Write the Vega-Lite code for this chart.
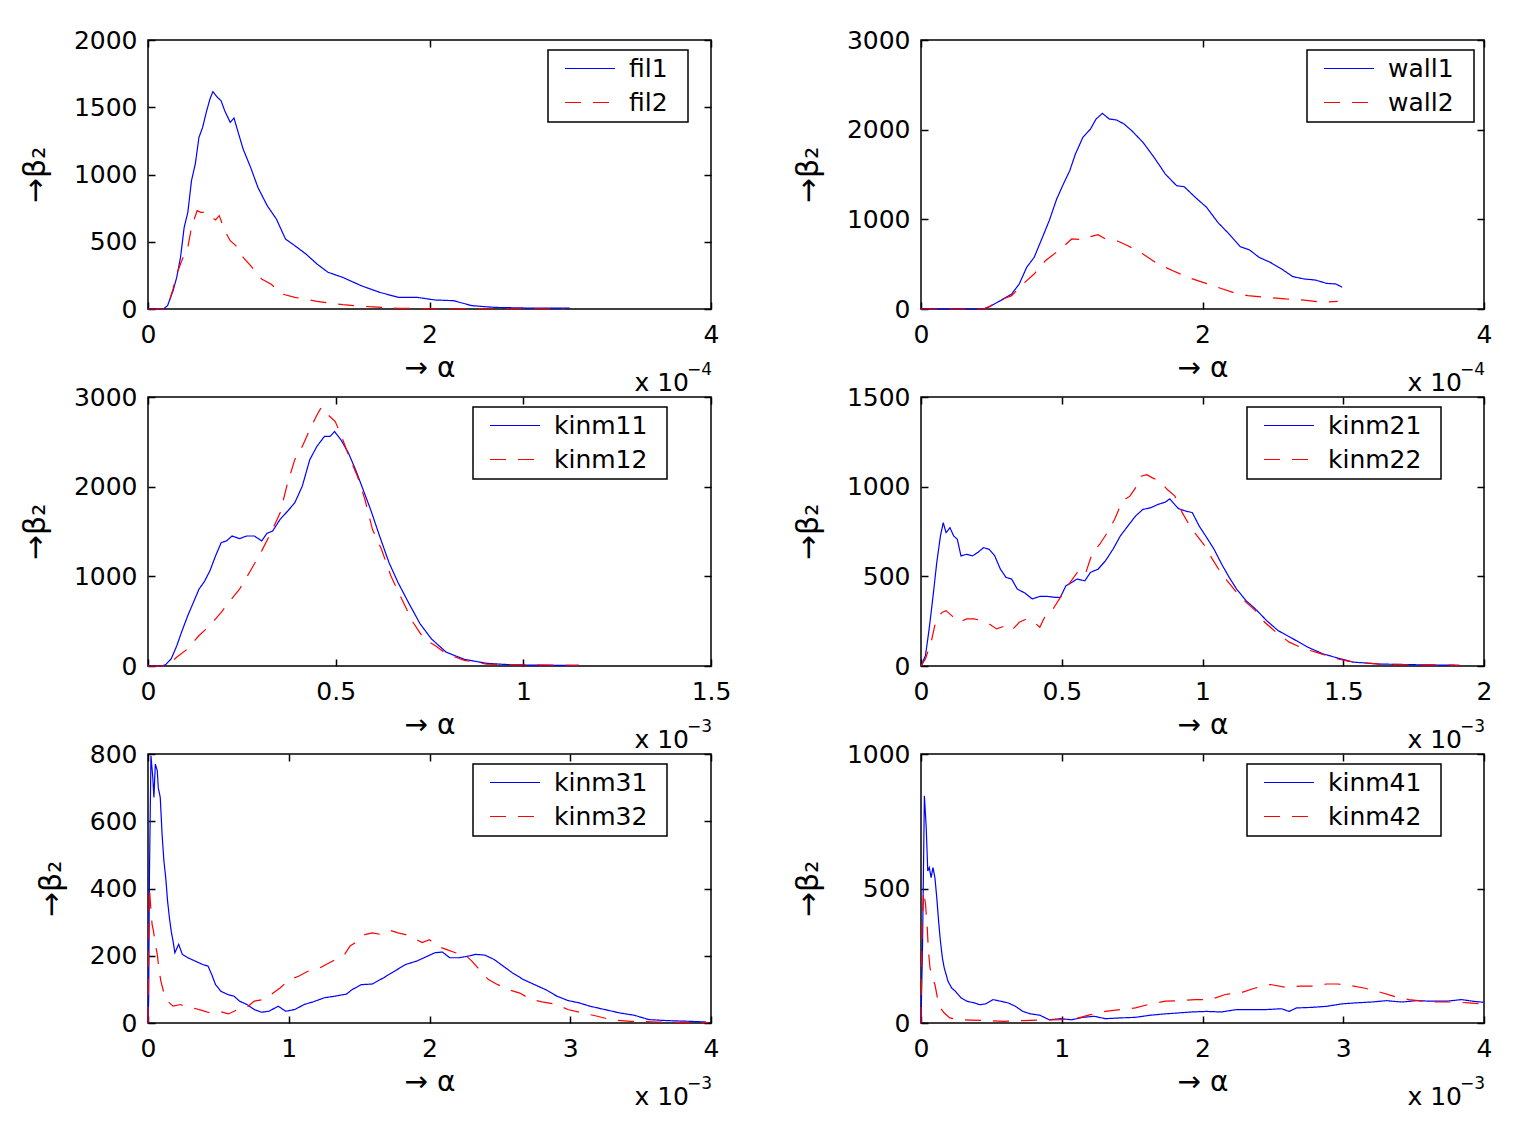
{
  "$schema": "https://vega.github.io/schema/vega-lite/v6.json",
  "background": "white",
  "padding": {"left": 19, "top": 27, "right": 10, "bottom": 10},
  "columns": 2,
  "spacing": {"row": 88, "column": 210},
  "bounds": "flush",
  "config": {
    "font": "DejaVu Sans",
    "view": {"stroke": "black", "strokeWidth": 1.5},
    "axis": {
      "grid": false, "domain": false,
      "tickColor": "black", "tickSize": -7, "tickWidth": 1.5,
      "labelFont": "DejaVu Sans", "labelFontSize": 25, "labelColor": "black",
      "labelFlush": false, "labelOverlap": false, "format": ".4~g",
      "titleFont": "DejaVu Sans", "titleFontSize": 28, "titleFontWeight": "normal", "titleColor": "black"
    },
    "axisX": {"labelPadding": 20, "titlePadding": 7},
    "axisY": {"labelPadding": 18, "titlePadding": 23, "titleFontSize": 30},
    "legend": {
      "orient": "none", "direction": "vertical",
      "symbolType": "stroke", "symbolSize": 2500, "symbolStrokeWidth": 2, "symbolOffset": 10,
      "labelOffset": 13, "labelFont": "DejaVu Sans", "labelFontSize": 25, "labelColor": "black", "labelBaseline": "middle",
      "titleOrient": "right", "titleColor": "rgba(0,0,0,0)", "titleFontSize": 40, "titlePadding": 0, "titleAngle": 0,
      "padding": 6, "rowPadding": 8, "clipHeight": 25,
      "strokeColor": "black", "strokeWidth": 1.5, "fillColor": "white"
    },
    "line": {"strokeWidth": 1.2, "clip": true},
    "text": {"font": "DejaVu Sans", "color": "black"}
  },
  "resolve": {
    "scale": {"color": "shared", "strokeDash": "shared"},
    "legend": {"color": "independent", "strokeDash": "independent"}
  },
  "concat": [
    {
      "width": 563, "height": 269,
      "resolve": {"axis": {"x": "independent", "y": "independent"}},
      "layer": [
        {
          "data": {"values": [
            {"s":"fil1","a":0,"b":0},{"s":"fil1","a":0.11,"b":0},{"s":"fil1","a":0.139,"b":25},{"s":"fil1","a":0.178,"b":136},{"s":"fil1","a":0.204,"b":235},{"s":"fil1","a":0.231,"b":384},{"s":"fil1","a":0.257,"b":607},{"s":"fil1","a":0.283,"b":719},{"s":"fil1","a":0.309,"b":954},{"s":"fil1","a":0.336,"b":1078},{"s":"fil1","a":0.362,"b":1276},{"s":"fil1","a":0.388,"b":1350},{"s":"fil1","a":0.414,"b":1462},{"s":"fil1","a":0.44,"b":1561},{"s":"fil1","a":0.461,"b":1616},{"s":"fil1","a":0.493,"b":1574},{"s":"fil1","a":0.519,"b":1549},{"s":"fil1","a":0.545,"b":1474},{"s":"fil1","a":0.584,"b":1388},{"s":"fil1","a":0.611,"b":1420},{"s":"fil1","a":0.637,"b":1326},{"s":"fil1","a":0.676,"b":1189},{"s":"fil1","a":0.729,"b":1053},{"s":"fil1","a":0.781,"b":904},{"s":"fil1","a":0.847,"b":768},{"s":"fil1","a":0.912,"b":669},{"s":"fil1","a":0.977,"b":520},{"s":"fil1","a":1.043,"b":471},{"s":"fil1","a":1.122,"b":409},{"s":"fil1","a":1.2,"b":335},{"s":"fil1","a":1.279,"b":273},{"s":"fil1","a":1.384,"b":235},{"s":"fil1","a":1.515,"b":173},{"s":"fil1","a":1.646,"b":124},{"s":"fil1","a":1.777,"b":87},{"s":"fil1","a":1.908,"b":87},{"s":"fil1","a":2.039,"b":67},{"s":"fil1","a":2.17,"b":62},{"s":"fil1","a":2.301,"b":25},{"s":"fil1","a":2.459,"b":12},{"s":"fil1","a":2.694,"b":7},{"s":"fil1","a":2.996,"b":7},
            {"s":"fil2","a":0,"b":0},{"s":"fil2","a":0.11,"b":0},{"s":"fil2","a":0.139,"b":17},{"s":"fil2","a":0.178,"b":149},{"s":"fil2","a":0.204,"b":260},{"s":"fil2","a":0.231,"b":335},{"s":"fil2","a":0.257,"b":404},{"s":"fil2","a":0.283,"b":458},{"s":"fil2","a":0.309,"b":607},{"s":"fil2","a":0.349,"b":731},{"s":"fil2","a":0.375,"b":719},{"s":"fil2","a":0.414,"b":719},{"s":"fil2","a":0.44,"b":694},{"s":"fil2","a":0.48,"b":662},{"s":"fil2","a":0.506,"b":694},{"s":"fil2","a":0.545,"b":582},{"s":"fil2","a":0.584,"b":508},{"s":"fil2","a":0.624,"b":471},{"s":"fil2","a":0.676,"b":384},{"s":"fil2","a":0.729,"b":322},{"s":"fil2","a":0.807,"b":223},{"s":"fil2","a":0.873,"b":186},{"s":"fil2","a":0.951,"b":112},{"s":"fil2","a":1.043,"b":87},{"s":"fil2","a":1.2,"b":57},{"s":"fil2","a":1.384,"b":32},{"s":"fil2","a":1.568,"b":17},{"s":"fil2","a":1.777,"b":5},{"s":"fil2","a":2.039,"b":2},{"s":"fil2","a":2.957,"b":2}
          ]},
          "mark": "line",
          "encoding": {
            "x": {"field": "a", "type": "quantitative", "scale": {"domain": [0, 4], "nice": false}, "axis": {"values": [0, 2, 4], "title": "→ α"}},
            "y": {"field": "b", "type": "quantitative", "scale": {"domain": [0, 2000], "nice": false}, "axis": {"values": [0, 500, 1000, 1500, 2000], "title": "→β₂"}},
            "color": {"field": "s", "type": "nominal", "scale": {"domain": ["fil1","fil2","wall1","wall2","kinm11","kinm12","kinm21","kinm22","kinm31","kinm32","kinm41","kinm42"], "range": ["#0000ff","#ff0000","#0000ff","#ff0000","#0000ff","#ff0000","#0000ff","#ff0000","#0000ff","#ff0000","#0000ff","#ff0000"]}, "legend": {"legendX": 400, "legendY": 10, "title": "l", "values": ["fil1", "fil2"]}},
            "strokeDash": {"field": "s", "type": "nominal", "scale": {"domain": ["fil1","fil2","wall1","wall2","kinm11","kinm12","kinm21","kinm22","kinm31","kinm32","kinm41","kinm42"], "range": [[1,0],[16,12],[1,0],[16,12],[1,0],[16,12],[1,0],[16,12],[1,0],[16,12],[1,0],[16,12]]}, "legend": {"legendX": 400, "legendY": 10, "title": "l", "values": ["fil1", "fil2"]}}
          }
        },
        {
          "data": {"values": [{}]},
          "mark": {"type": "text", "text": "x 10", "align": "right", "baseline": "alphabetic", "dx": -22, "dy": 82, "fontSize": 25},
          "encoding": {
            "x": {"datum": 4, "type": "quantitative", "axis": {"orient": "top", "labels": false, "title": null, "values": [0, 2, 4]}},
            "y": {"datum": 0, "type": "quantitative", "axis": {"orient": "right", "labels": false, "title": null, "values": [0, 500, 1000, 1500, 2000]}}
          }
        },
        {
          "data": {"values": [{}]},
          "mark": {"type": "text", "text": "−4", "align": "right", "baseline": "alphabetic", "dx": 1, "dy": 66, "fontSize": 17},
          "encoding": {"x": {"datum": 4, "type": "quantitative", "axis": null}, "y": {"datum": 0, "type": "quantitative", "axis": null}}
        }
      ]
    },
    {
      "width": 563, "height": 269,
      "resolve": {"axis": {"x": "independent", "y": "independent"}},
      "layer": [
        {
          "data": {"values": [
            {"s":"wall1","a":0,"b":0},{"s":"wall1","a":0.445,"b":0},{"s":"wall1","a":0.485,"b":26},{"s":"wall1","a":0.565,"b":93},{"s":"wall1","a":0.644,"b":167},{"s":"wall1","a":0.698,"b":279},{"s":"wall1","a":0.751,"b":465},{"s":"wall1","a":0.804,"b":576},{"s":"wall1","a":0.858,"b":781},{"s":"wall1","a":0.911,"b":985},{"s":"wall1","a":0.964,"b":1227},{"s":"wall1","a":1.017,"b":1412},{"s":"wall1","a":1.057,"b":1543},{"s":"wall1","a":1.097,"b":1728},{"s":"wall1","a":1.15,"b":1914},{"s":"wall1","a":1.204,"b":2007},{"s":"wall1","a":1.244,"b":2119},{"s":"wall1","a":1.289,"b":2182},{"s":"wall1","a":1.337,"b":2119},{"s":"wall1","a":1.39,"b":2108},{"s":"wall1","a":1.443,"b":2063},{"s":"wall1","a":1.497,"b":1989},{"s":"wall1","a":1.577,"b":1859},{"s":"wall1","a":1.656,"b":1691},{"s":"wall1","a":1.736,"b":1505},{"s":"wall1","a":1.816,"b":1375},{"s":"wall1","a":1.87,"b":1364},{"s":"wall1","a":1.949,"b":1245},{"s":"wall1","a":2.029,"b":1134},{"s":"wall1","a":2.109,"b":966},{"s":"wall1","a":2.189,"b":836},{"s":"wall1","a":2.269,"b":695},{"s":"wall1","a":2.335,"b":658},{"s":"wall1","a":2.402,"b":576},{"s":"wall1","a":2.482,"b":520},{"s":"wall1","a":2.562,"b":446},{"s":"wall1","a":2.642,"b":361},{"s":"wall1","a":2.722,"b":335},{"s":"wall1","a":2.802,"b":323},{"s":"wall1","a":2.882,"b":286},{"s":"wall1","a":2.948,"b":279},{"s":"wall1","a":2.993,"b":242},
            {"s":"wall2","a":0,"b":0},{"s":"wall2","a":0.445,"b":0},{"s":"wall2","a":0.485,"b":26},{"s":"wall2","a":0.565,"b":100},{"s":"wall2","a":0.644,"b":149},{"s":"wall2","a":0.724,"b":279},{"s":"wall2","a":0.804,"b":390},{"s":"wall2","a":0.884,"b":539},{"s":"wall2","a":0.991,"b":669},{"s":"wall2","a":1.071,"b":781},{"s":"wall2","a":1.15,"b":773},{"s":"wall2","a":1.204,"b":807},{"s":"wall2","a":1.257,"b":829},{"s":"wall2","a":1.31,"b":781},{"s":"wall2","a":1.39,"b":762},{"s":"wall2","a":1.47,"b":706},{"s":"wall2","a":1.577,"b":613},{"s":"wall2","a":1.683,"b":502},{"s":"wall2","a":1.79,"b":427},{"s":"wall2","a":1.896,"b":353},{"s":"wall2","a":2.003,"b":297},{"s":"wall2","a":2.109,"b":242},{"s":"wall2","a":2.216,"b":186},{"s":"wall2","a":2.322,"b":149},{"s":"wall2","a":2.455,"b":130},{"s":"wall2","a":2.589,"b":112},{"s":"wall2","a":2.722,"b":100},{"s":"wall2","a":2.855,"b":74},{"s":"wall2","a":2.961,"b":85}
          ]},
          "mark": "line",
          "encoding": {
            "x": {"field": "a", "type": "quantitative", "scale": {"domain": [0, 4], "nice": false}, "axis": {"values": [0, 2, 4], "title": "→ α"}},
            "y": {"field": "b", "type": "quantitative", "scale": {"domain": [0, 3000], "nice": false}, "axis": {"values": [0, 1000, 2000, 3000], "title": "→β₂"}},
            "color": {"field": "s", "type": "nominal", "scale": {"domain": ["fil1","fil2","wall1","wall2","kinm11","kinm12","kinm21","kinm22","kinm31","kinm32","kinm41","kinm42"], "range": ["#0000ff","#ff0000","#0000ff","#ff0000","#0000ff","#ff0000","#0000ff","#ff0000","#0000ff","#ff0000","#0000ff","#ff0000"]}, "legend": {"legendX": 386, "legendY": 10, "title": "l", "values": ["wall1", "wall2"]}},
            "strokeDash": {"field": "s", "type": "nominal", "scale": {"domain": ["fil1","fil2","wall1","wall2","kinm11","kinm12","kinm21","kinm22","kinm31","kinm32","kinm41","kinm42"], "range": [[1,0],[16,12],[1,0],[16,12],[1,0],[16,12],[1,0],[16,12],[1,0],[16,12],[1,0],[16,12]]}, "legend": {"legendX": 386, "legendY": 10, "title": "l", "values": ["wall1", "wall2"]}}
          }
        },
        {
          "data": {"values": [{}]},
          "mark": {"type": "text", "text": "x 10", "align": "right", "baseline": "alphabetic", "dx": -22, "dy": 82, "fontSize": 25},
          "encoding": {
            "x": {"datum": 4, "type": "quantitative", "axis": {"orient": "top", "labels": false, "title": null, "values": [0, 2, 4]}},
            "y": {"datum": 0, "type": "quantitative", "axis": {"orient": "right", "labels": false, "title": null, "values": [0, 1000, 2000, 3000]}}
          }
        },
        {
          "data": {"values": [{}]},
          "mark": {"type": "text", "text": "−4", "align": "right", "baseline": "alphabetic", "dx": 1, "dy": 66, "fontSize": 17},
          "encoding": {"x": {"datum": 4, "type": "quantitative", "axis": null}, "y": {"datum": 0, "type": "quantitative", "axis": null}}
        }
      ]
    },
    {
      "width": 563, "height": 269,
      "resolve": {"axis": {"x": "independent", "y": "independent"}},
      "layer": [
        {
          "data": {"values": [
            {"s":"kinm11","a":0,"b":0},{"s":"kinm11","a":0.037,"b":0},{"s":"kinm11","a":0.047,"b":15},{"s":"kinm11","a":0.062,"b":81},{"s":"kinm11","a":0.077,"b":229},{"s":"kinm11","a":0.091,"b":396},{"s":"kinm11","a":0.106,"b":562},{"s":"kinm11","a":0.121,"b":710},{"s":"kinm11","a":0.136,"b":858},{"s":"kinm11","a":0.15,"b":940},{"s":"kinm11","a":0.165,"b":1062},{"s":"kinm11","a":0.18,"b":1228},{"s":"kinm11","a":0.195,"b":1376},{"s":"kinm11","a":0.209,"b":1395},{"s":"kinm11","a":0.224,"b":1450},{"s":"kinm11","a":0.244,"b":1420},{"s":"kinm11","a":0.263,"b":1450},{"s":"kinm11","a":0.283,"b":1450},{"s":"kinm11","a":0.303,"b":1395},{"s":"kinm11","a":0.317,"b":1480},{"s":"kinm11","a":0.332,"b":1505},{"s":"kinm11","a":0.352,"b":1635},{"s":"kinm11","a":0.372,"b":1727},{"s":"kinm11","a":0.391,"b":1820},{"s":"kinm11","a":0.411,"b":2005},{"s":"kinm11","a":0.431,"b":2301},{"s":"kinm11","a":0.45,"b":2449},{"s":"kinm11","a":0.47,"b":2560},{"s":"kinm11","a":0.485,"b":2560},{"s":"kinm11","a":0.497,"b":2615},{"s":"kinm11","a":0.514,"b":2523},{"s":"kinm11","a":0.534,"b":2375},{"s":"kinm11","a":0.553,"b":2190},{"s":"kinm11","a":0.573,"b":1968},{"s":"kinm11","a":0.593,"b":1746},{"s":"kinm11","a":0.617,"b":1450},{"s":"kinm11","a":0.642,"b":1154},{"s":"kinm11","a":0.666,"b":932},{"s":"kinm11","a":0.696,"b":692},{"s":"kinm11","a":0.725,"b":470},{"s":"kinm11","a":0.755,"b":303},{"s":"kinm11","a":0.794,"b":155},{"s":"kinm11","a":0.843,"b":74},{"s":"kinm11","a":0.902,"b":30},{"s":"kinm11","a":0.961,"b":15},{"s":"kinm11","a":1.06,"b":7},{"s":"kinm11","a":1.148,"b":7},
            {"s":"kinm12","a":0,"b":0},{"s":"kinm12","a":0.037,"b":0},{"s":"kinm12","a":0.057,"b":26},{"s":"kinm12","a":0.077,"b":100},{"s":"kinm12","a":0.106,"b":192},{"s":"kinm12","a":0.136,"b":340},{"s":"kinm12","a":0.165,"b":451},{"s":"kinm12","a":0.195,"b":599},{"s":"kinm12","a":0.219,"b":729},{"s":"kinm12","a":0.244,"b":858},{"s":"kinm12","a":0.273,"b":1062},{"s":"kinm12","a":0.303,"b":1284},{"s":"kinm12","a":0.332,"b":1524},{"s":"kinm12","a":0.352,"b":1709},{"s":"kinm12","a":0.372,"b":2042},{"s":"kinm12","a":0.391,"b":2301},{"s":"kinm12","a":0.411,"b":2449},{"s":"kinm12","a":0.431,"b":2634},{"s":"kinm12","a":0.45,"b":2800},{"s":"kinm12","a":0.462,"b":2885},{"s":"kinm12","a":0.48,"b":2800},{"s":"kinm12","a":0.499,"b":2726},{"s":"kinm12","a":0.519,"b":2523},{"s":"kinm12","a":0.539,"b":2301},{"s":"kinm12","a":0.558,"b":2116},{"s":"kinm12","a":0.578,"b":1857},{"s":"kinm12","a":0.598,"b":1524},{"s":"kinm12","a":0.622,"b":1302},{"s":"kinm12","a":0.647,"b":1006},{"s":"kinm12","a":0.676,"b":747},{"s":"kinm12","a":0.706,"b":488},{"s":"kinm12","a":0.735,"b":303},{"s":"kinm12","a":0.765,"b":229},{"s":"kinm12","a":0.794,"b":137},{"s":"kinm12","a":0.843,"b":63},{"s":"kinm12","a":0.902,"b":22},{"s":"kinm12","a":0.961,"b":15},{"s":"kinm12","a":1.148,"b":7}
          ]},
          "mark": "line",
          "encoding": {
            "x": {"field": "a", "type": "quantitative", "scale": {"domain": [0, 1.5], "nice": false}, "axis": {"values": [0, 0.5, 1, 1.5], "title": "→ α"}},
            "y": {"field": "b", "type": "quantitative", "scale": {"domain": [0, 3000], "nice": false}, "axis": {"values": [0, 1000, 2000, 3000], "title": "→β₂"}},
            "color": {"field": "s", "type": "nominal", "scale": {"domain": ["fil1","fil2","wall1","wall2","kinm11","kinm12","kinm21","kinm22","kinm31","kinm32","kinm41","kinm42"], "range": ["#0000ff","#ff0000","#0000ff","#ff0000","#0000ff","#ff0000","#0000ff","#ff0000","#0000ff","#ff0000","#0000ff","#ff0000"]}, "legend": {"legendX": 325, "legendY": 10, "title": "l", "values": ["kinm11", "kinm12"]}},
            "strokeDash": {"field": "s", "type": "nominal", "scale": {"domain": ["fil1","fil2","wall1","wall2","kinm11","kinm12","kinm21","kinm22","kinm31","kinm32","kinm41","kinm42"], "range": [[1,0],[16,12],[1,0],[16,12],[1,0],[16,12],[1,0],[16,12],[1,0],[16,12],[1,0],[16,12]]}, "legend": {"legendX": 325, "legendY": 10, "title": "l", "values": ["kinm11", "kinm12"]}}
          }
        },
        {
          "data": {"values": [{}]},
          "mark": {"type": "text", "text": "x 10", "align": "right", "baseline": "alphabetic", "dx": -22, "dy": 82, "fontSize": 25},
          "encoding": {
            "x": {"datum": 1.5, "type": "quantitative", "axis": {"orient": "top", "labels": false, "title": null, "values": [0, 0.5, 1, 1.5]}},
            "y": {"datum": 0, "type": "quantitative", "axis": {"orient": "right", "labels": false, "title": null, "values": [0, 1000, 2000, 3000]}}
          }
        },
        {
          "data": {"values": [{}]},
          "mark": {"type": "text", "text": "−3", "align": "right", "baseline": "alphabetic", "dx": 1, "dy": 66, "fontSize": 17},
          "encoding": {"x": {"datum": 1.5, "type": "quantitative", "axis": null}, "y": {"datum": 0, "type": "quantitative", "axis": null}}
        }
      ]
    },
    {
      "width": 563, "height": 269,
      "resolve": {"axis": {"x": "independent", "y": "independent"}},
      "layer": [
        {
          "data": {"values": [
            {"s":"kinm21","a":0,"b":0},{"s":"kinm21","a":0.016,"b":59},{"s":"kinm21","a":0.029,"b":207},{"s":"kinm21","a":0.043,"b":392},{"s":"kinm21","a":0.056,"b":577},{"s":"kinm21","a":0.069,"b":725},{"s":"kinm21","a":0.079,"b":799},{"s":"kinm21","a":0.089,"b":744},{"s":"kinm21","a":0.103,"b":771},{"s":"kinm21","a":0.116,"b":725},{"s":"kinm21","a":0.129,"b":707},{"s":"kinm21","a":0.142,"b":614},{"s":"kinm21","a":0.162,"b":623},{"s":"kinm21","a":0.182,"b":614},{"s":"kinm21","a":0.202,"b":633},{"s":"kinm21","a":0.222,"b":660},{"s":"kinm21","a":0.242,"b":651},{"s":"kinm21","a":0.262,"b":614},{"s":"kinm21","a":0.282,"b":540},{"s":"kinm21","a":0.302,"b":494},{"s":"kinm21","a":0.322,"b":485},{"s":"kinm21","a":0.342,"b":429},{"s":"kinm21","a":0.369,"b":407},{"s":"kinm21","a":0.395,"b":374},{"s":"kinm21","a":0.422,"b":388},{"s":"kinm21","a":0.449,"b":388},{"s":"kinm21","a":0.475,"b":383},{"s":"kinm21","a":0.495,"b":383},{"s":"kinm21","a":0.515,"b":448},{"s":"kinm21","a":0.535,"b":466},{"s":"kinm21","a":0.555,"b":485},{"s":"kinm21","a":0.582,"b":475},{"s":"kinm21","a":0.602,"b":522},{"s":"kinm21","a":0.629,"b":540},{"s":"kinm21","a":0.655,"b":586},{"s":"kinm21","a":0.682,"b":651},{"s":"kinm21","a":0.708,"b":725},{"s":"kinm21","a":0.735,"b":781},{"s":"kinm21","a":0.762,"b":836},{"s":"kinm21","a":0.788,"b":873},{"s":"kinm21","a":0.815,"b":882},{"s":"kinm21","a":0.842,"b":901},{"s":"kinm21","a":0.868,"b":914},{"s":"kinm21","a":0.884,"b":932},{"s":"kinm21","a":0.901,"b":901},{"s":"kinm21","a":0.915,"b":877},{"s":"kinm21","a":0.941,"b":864},{"s":"kinm21","a":0.964,"b":855},{"s":"kinm21","a":0.988,"b":781},{"s":"kinm21","a":1.015,"b":716},{"s":"kinm21","a":1.041,"b":651},{"s":"kinm21","a":1.068,"b":568},{"s":"kinm21","a":1.095,"b":494},{"s":"kinm21","a":1.121,"b":429},{"s":"kinm21","a":1.155,"b":364},{"s":"kinm21","a":1.188,"b":318},{"s":"kinm21","a":1.228,"b":253},{"s":"kinm21","a":1.268,"b":198},{"s":"kinm21","a":1.321,"b":152},{"s":"kinm21","a":1.374,"b":105},{"s":"kinm21","a":1.428,"b":68},{"s":"kinm21","a":1.481,"b":44},{"s":"kinm21","a":1.534,"b":22},{"s":"kinm21","a":1.627,"b":11},{"s":"kinm21","a":1.76,"b":7},{"s":"kinm21","a":1.913,"b":4},
            {"s":"kinm22","a":0,"b":0},{"s":"kinm22","a":0.016,"b":41},{"s":"kinm22","a":0.036,"b":133},{"s":"kinm22","a":0.049,"b":226},{"s":"kinm22","a":0.063,"b":281},{"s":"kinm22","a":0.076,"b":300},{"s":"kinm22","a":0.089,"b":309},{"s":"kinm22","a":0.109,"b":281},{"s":"kinm22","a":0.136,"b":244},{"s":"kinm22","a":0.162,"b":263},{"s":"kinm22","a":0.189,"b":263},{"s":"kinm22","a":0.216,"b":253},{"s":"kinm22","a":0.242,"b":235},{"s":"kinm22","a":0.269,"b":207},{"s":"kinm22","a":0.296,"b":222},{"s":"kinm22","a":0.322,"b":198},{"s":"kinm22","a":0.349,"b":244},{"s":"kinm22","a":0.375,"b":263},{"s":"kinm22","a":0.402,"b":244},{"s":"kinm22","a":0.422,"b":216},{"s":"kinm22","a":0.442,"b":281},{"s":"kinm22","a":0.469,"b":318},{"s":"kinm22","a":0.495,"b":383},{"s":"kinm22","a":0.522,"b":448},{"s":"kinm22","a":0.555,"b":522},{"s":"kinm22","a":0.582,"b":503},{"s":"kinm22","a":0.609,"b":633},{"s":"kinm22","a":0.635,"b":679},{"s":"kinm22","a":0.662,"b":744},{"s":"kinm22","a":0.688,"b":818},{"s":"kinm22","a":0.715,"b":919},{"s":"kinm22","a":0.742,"b":947},{"s":"kinm22","a":0.762,"b":993},{"s":"kinm22","a":0.782,"b":1058},{"s":"kinm22","a":0.802,"b":1067},{"s":"kinm22","a":0.822,"b":1049},{"s":"kinm22","a":0.848,"b":1030},{"s":"kinm22","a":0.875,"b":984},{"s":"kinm22","a":0.902,"b":947},{"s":"kinm22","a":0.928,"b":855},{"s":"kinm22","a":0.955,"b":781},{"s":"kinm22","a":0.981,"b":725},{"s":"kinm22","a":1.008,"b":670},{"s":"kinm22","a":1.035,"b":596},{"s":"kinm22","a":1.061,"b":531},{"s":"kinm22","a":1.088,"b":475},{"s":"kinm22","a":1.121,"b":411},{"s":"kinm22","a":1.155,"b":355},{"s":"kinm22","a":1.188,"b":309},{"s":"kinm22","a":1.221,"b":244},{"s":"kinm22","a":1.261,"b":189},{"s":"kinm22","a":1.308,"b":133},{"s":"kinm22","a":1.361,"b":96},{"s":"kinm22","a":1.414,"b":72},{"s":"kinm22","a":1.467,"b":44},{"s":"kinm22","a":1.521,"b":26},{"s":"kinm22","a":1.627,"b":11},{"s":"kinm22","a":1.76,"b":6},{"s":"kinm22","a":1.913,"b":4}
          ]},
          "mark": "line",
          "encoding": {
            "x": {"field": "a", "type": "quantitative", "scale": {"domain": [0, 2], "nice": false}, "axis": {"values": [0, 0.5, 1, 1.5, 2], "title": "→ α"}},
            "y": {"field": "b", "type": "quantitative", "scale": {"domain": [0, 1500], "nice": false}, "axis": {"values": [0, 500, 1000, 1500], "title": "→β₂"}},
            "color": {"field": "s", "type": "nominal", "scale": {"domain": ["fil1","fil2","wall1","wall2","kinm11","kinm12","kinm21","kinm22","kinm31","kinm32","kinm41","kinm42"], "range": ["#0000ff","#ff0000","#0000ff","#ff0000","#0000ff","#ff0000","#0000ff","#ff0000","#0000ff","#ff0000","#0000ff","#ff0000"]}, "legend": {"legendX": 326, "legendY": 10, "title": "l", "values": ["kinm21", "kinm22"]}},
            "strokeDash": {"field": "s", "type": "nominal", "scale": {"domain": ["fil1","fil2","wall1","wall2","kinm11","kinm12","kinm21","kinm22","kinm31","kinm32","kinm41","kinm42"], "range": [[1,0],[16,12],[1,0],[16,12],[1,0],[16,12],[1,0],[16,12],[1,0],[16,12],[1,0],[16,12]]}, "legend": {"legendX": 326, "legendY": 10, "title": "l", "values": ["kinm21", "kinm22"]}}
          }
        },
        {
          "data": {"values": [{}]},
          "mark": {"type": "text", "text": "x 10", "align": "right", "baseline": "alphabetic", "dx": -22, "dy": 82, "fontSize": 25},
          "encoding": {
            "x": {"datum": 2, "type": "quantitative", "axis": {"orient": "top", "labels": false, "title": null, "values": [0, 0.5, 1, 1.5, 2]}},
            "y": {"datum": 0, "type": "quantitative", "axis": {"orient": "right", "labels": false, "title": null, "values": [0, 500, 1000, 1500]}}
          }
        },
        {
          "data": {"values": [{}]},
          "mark": {"type": "text", "text": "−3", "align": "right", "baseline": "alphabetic", "dx": 1, "dy": 66, "fontSize": 17},
          "encoding": {"x": {"datum": 2, "type": "quantitative", "axis": null}, "y": {"datum": 0, "type": "quantitative", "axis": null}}
        }
      ]
    },
    {
      "width": 563, "height": 269,
      "resolve": {"axis": {"x": "independent", "y": "independent"}},
      "layer": [
        {
          "data": {"values": [
            {"s":"kinm31","a":0,"b":0},{"s":"kinm31","a":0.005,"b":75},{"s":"kinm31","a":0.01,"b":432},{"s":"kinm31","a":0.021,"b":795},{"s":"kinm31","a":0.034,"b":730},{"s":"kinm31","a":0.042,"b":671},{"s":"kinm31","a":0.052,"b":770},{"s":"kinm31","a":0.066,"b":750},{"s":"kinm31","a":0.073,"b":700},{"s":"kinm31","a":0.087,"b":671},{"s":"kinm31","a":0.1,"b":561},{"s":"kinm31","a":0.113,"b":482},{"s":"kinm31","a":0.126,"b":432},{"s":"kinm31","a":0.139,"b":363},{"s":"kinm31","a":0.152,"b":313},{"s":"kinm31","a":0.165,"b":273},{"s":"kinm31","a":0.178,"b":243},{"s":"kinm31","a":0.191,"b":209},{"s":"kinm31","a":0.218,"b":234},{"s":"kinm31","a":0.244,"b":204},{"s":"kinm31","a":0.283,"b":194},{"s":"kinm31","a":0.336,"b":184},{"s":"kinm31","a":0.388,"b":174},{"s":"kinm31","a":0.427,"b":169},{"s":"kinm31","a":0.453,"b":144},{"s":"kinm31","a":0.48,"b":114},{"s":"kinm31","a":0.519,"b":94},{"s":"kinm31","a":0.571,"b":84},{"s":"kinm31","a":0.611,"b":80},{"s":"kinm31","a":0.65,"b":65},{"s":"kinm31","a":0.703,"b":55},{"s":"kinm31","a":0.755,"b":40},{"s":"kinm31","a":0.807,"b":32},{"s":"kinm31","a":0.86,"b":35},{"s":"kinm31","a":0.925,"b":50},{"s":"kinm31","a":0.978,"b":35},{"s":"kinm31","a":1.043,"b":40},{"s":"kinm31","a":1.109,"b":55},{"s":"kinm31","a":1.174,"b":63},{"s":"kinm31","a":1.253,"b":75},{"s":"kinm31","a":1.332,"b":80},{"s":"kinm31","a":1.41,"b":86},{"s":"kinm31","a":1.449,"b":99},{"s":"kinm31","a":1.515,"b":114},{"s":"kinm31","a":1.593,"b":116},{"s":"kinm31","a":1.672,"b":134},{"s":"kinm31","a":1.751,"b":154},{"s":"kinm31","a":1.83,"b":174},{"s":"kinm31","a":1.908,"b":184},{"s":"kinm31","a":1.987,"b":199},{"s":"kinm31","a":2.039,"b":209},{"s":"kinm31","a":2.092,"b":211},{"s":"kinm31","a":2.144,"b":194},{"s":"kinm31","a":2.21,"b":194},{"s":"kinm31","a":2.275,"b":199},{"s":"kinm31","a":2.328,"b":204},{"s":"kinm31","a":2.393,"b":202},{"s":"kinm31","a":2.459,"b":189},{"s":"kinm31","a":2.524,"b":169},{"s":"kinm31","a":2.59,"b":149},{"s":"kinm31","a":2.668,"b":129},{"s":"kinm31","a":2.747,"b":114},{"s":"kinm31","a":2.826,"b":99},{"s":"kinm31","a":2.904,"b":80},{"s":"kinm31","a":2.983,"b":67},{"s":"kinm31","a":3.062,"b":60},{"s":"kinm31","a":3.14,"b":50},{"s":"kinm31","a":3.245,"b":40},{"s":"kinm31","a":3.35,"b":30},{"s":"kinm31","a":3.455,"b":23},{"s":"kinm31","a":3.56,"b":10},{"s":"kinm31","a":3.691,"b":7},{"s":"kinm31","a":3.848,"b":5},{"s":"kinm31","a":3.966,"b":3},
            {"s":"kinm32","a":0,"b":0},{"s":"kinm32","a":0.005,"b":234},{"s":"kinm32","a":0.01,"b":402},{"s":"kinm32","a":0.018,"b":353},{"s":"kinm32","a":0.029,"b":293},{"s":"kinm32","a":0.039,"b":273},{"s":"kinm32","a":0.052,"b":234},{"s":"kinm32","a":0.066,"b":204},{"s":"kinm32","a":0.079,"b":154},{"s":"kinm32","a":0.092,"b":124},{"s":"kinm32","a":0.113,"b":89},{"s":"kinm32","a":0.139,"b":65},{"s":"kinm32","a":0.178,"b":50},{"s":"kinm32","a":0.231,"b":55},{"s":"kinm32","a":0.283,"b":45},{"s":"kinm32","a":0.336,"b":43},{"s":"kinm32","a":0.388,"b":37},{"s":"kinm32","a":0.44,"b":30},{"s":"kinm32","a":0.506,"b":35},{"s":"kinm32","a":0.571,"b":27},{"s":"kinm32","a":0.637,"b":40},{"s":"kinm32","a":0.703,"b":47},{"s":"kinm32","a":0.755,"b":65},{"s":"kinm32","a":0.82,"b":70},{"s":"kinm32","a":0.873,"b":84},{"s":"kinm32","a":0.938,"b":104},{"s":"kinm32","a":1.004,"b":129},{"s":"kinm32","a":1.07,"b":139},{"s":"kinm32","a":1.135,"b":154},{"s":"kinm32","a":1.2,"b":159},{"s":"kinm32","a":1.266,"b":174},{"s":"kinm32","a":1.332,"b":189},{"s":"kinm32","a":1.397,"b":204},{"s":"kinm32","a":1.436,"b":229},{"s":"kinm32","a":1.489,"b":243},{"s":"kinm32","a":1.541,"b":263},{"s":"kinm32","a":1.593,"b":268},{"s":"kinm32","a":1.659,"b":263},{"s":"kinm32","a":1.725,"b":275},{"s":"kinm32","a":1.777,"b":268},{"s":"kinm32","a":1.83,"b":263},{"s":"kinm32","a":1.895,"b":251},{"s":"kinm32","a":1.948,"b":239},{"s":"kinm32","a":2,"b":248},{"s":"kinm32","a":2.052,"b":229},{"s":"kinm32","a":2.118,"b":219},{"s":"kinm32","a":2.184,"b":209},{"s":"kinm32","a":2.249,"b":204},{"s":"kinm32","a":2.301,"b":184},{"s":"kinm32","a":2.354,"b":159},{"s":"kinm32","a":2.419,"b":129},{"s":"kinm32","a":2.485,"b":114},{"s":"kinm32","a":2.564,"b":99},{"s":"kinm32","a":2.642,"b":89},{"s":"kinm32","a":2.721,"b":70},{"s":"kinm32","a":2.799,"b":63},{"s":"kinm32","a":2.904,"b":55},{"s":"kinm32","a":2.983,"b":40},{"s":"kinm32","a":3.088,"b":30},{"s":"kinm32","a":3.193,"b":20},{"s":"kinm32","a":3.298,"b":9},{"s":"kinm32","a":3.429,"b":5},{"s":"kinm32","a":3.612,"b":3},{"s":"kinm32","a":3.822,"b":1},{"s":"kinm32","a":3.979,"b":1}
          ]},
          "mark": "line",
          "encoding": {
            "x": {"field": "a", "type": "quantitative", "scale": {"domain": [0, 4], "nice": false}, "axis": {"values": [0, 1, 2, 3, 4], "title": "→ α"}},
            "y": {"field": "b", "type": "quantitative", "scale": {"domain": [0, 800], "nice": false}, "axis": {"values": [0, 200, 400, 600, 800], "title": "→β₂"}},
            "color": {"field": "s", "type": "nominal", "scale": {"domain": ["fil1","fil2","wall1","wall2","kinm11","kinm12","kinm21","kinm22","kinm31","kinm32","kinm41","kinm42"], "range": ["#0000ff","#ff0000","#0000ff","#ff0000","#0000ff","#ff0000","#0000ff","#ff0000","#0000ff","#ff0000","#0000ff","#ff0000"]}, "legend": {"legendX": 325, "legendY": 10, "title": "l", "values": ["kinm31", "kinm32"]}},
            "strokeDash": {"field": "s", "type": "nominal", "scale": {"domain": ["fil1","fil2","wall1","wall2","kinm11","kinm12","kinm21","kinm22","kinm31","kinm32","kinm41","kinm42"], "range": [[1,0],[16,12],[1,0],[16,12],[1,0],[16,12],[1,0],[16,12],[1,0],[16,12],[1,0],[16,12]]}, "legend": {"legendX": 325, "legendY": 10, "title": "l", "values": ["kinm31", "kinm32"]}}
          }
        },
        {
          "data": {"values": [{}]},
          "mark": {"type": "text", "text": "x 10", "align": "right", "baseline": "alphabetic", "dx": -22, "dy": 82, "fontSize": 25},
          "encoding": {
            "x": {"datum": 4, "type": "quantitative", "axis": {"orient": "top", "labels": false, "title": null, "values": [0, 1, 2, 3, 4]}},
            "y": {"datum": 0, "type": "quantitative", "axis": {"orient": "right", "labels": false, "title": null, "values": [0, 200, 400, 600, 800]}}
          }
        },
        {
          "data": {"values": [{}]},
          "mark": {"type": "text", "text": "−3", "align": "right", "baseline": "alphabetic", "dx": 1, "dy": 66, "fontSize": 17},
          "encoding": {"x": {"datum": 4, "type": "quantitative", "axis": null}, "y": {"datum": 0, "type": "quantitative", "axis": null}}
        }
      ]
    },
    {
      "width": 563, "height": 269,
      "resolve": {"axis": {"x": "independent", "y": "independent"}},
      "layer": [
        {
          "data": {"values": [
            {"s":"kinm41","a":0,"b":0},{"s":"kinm41","a":0.011,"b":292},{"s":"kinm41","a":0.024,"b":845},{"s":"kinm41","a":0.037,"b":727},{"s":"kinm41","a":0.048,"b":565},{"s":"kinm41","a":0.059,"b":578},{"s":"kinm41","a":0.072,"b":540},{"s":"kinm41","a":0.085,"b":578},{"s":"kinm41","a":0.099,"b":540},{"s":"kinm41","a":0.112,"b":466},{"s":"kinm41","a":0.125,"b":379},{"s":"kinm41","a":0.138,"b":304},{"s":"kinm41","a":0.152,"b":242},{"s":"kinm41","a":0.165,"b":205},{"s":"kinm41","a":0.192,"b":155},{"s":"kinm41","a":0.218,"b":130},{"s":"kinm41","a":0.245,"b":118},{"s":"kinm41","a":0.285,"b":93},{"s":"kinm41","a":0.325,"b":81},{"s":"kinm41","a":0.378,"b":75},{"s":"kinm41","a":0.418,"b":68},{"s":"kinm41","a":0.458,"b":71},{"s":"kinm41","a":0.511,"b":87},{"s":"kinm41","a":0.565,"b":81},{"s":"kinm41","a":0.618,"b":75},{"s":"kinm41","a":0.671,"b":62},{"s":"kinm41","a":0.724,"b":43},{"s":"kinm41","a":0.778,"b":34},{"s":"kinm41","a":0.844,"b":29},{"s":"kinm41","a":0.911,"b":12},{"s":"kinm41","a":0.991,"b":16},{"s":"kinm41","a":1.071,"b":12},{"s":"kinm41","a":1.15,"b":21},{"s":"kinm41","a":1.23,"b":25},{"s":"kinm41","a":1.31,"b":16},{"s":"kinm41","a":1.417,"b":19},{"s":"kinm41","a":1.523,"b":21},{"s":"kinm41","a":1.63,"b":29},{"s":"kinm41","a":1.736,"b":34},{"s":"kinm41","a":1.816,"b":37},{"s":"kinm41","a":1.923,"b":41},{"s":"kinm41","a":2.029,"b":43},{"s":"kinm41","a":2.136,"b":41},{"s":"kinm41","a":2.242,"b":50},{"s":"kinm41","a":2.349,"b":50},{"s":"kinm41","a":2.455,"b":50},{"s":"kinm41","a":2.562,"b":53},{"s":"kinm41","a":2.615,"b":43},{"s":"kinm41","a":2.668,"b":56},{"s":"kinm41","a":2.775,"b":58},{"s":"kinm41","a":2.882,"b":62},{"s":"kinm41","a":2.988,"b":71},{"s":"kinm41","a":3.095,"b":75},{"s":"kinm41","a":3.201,"b":78},{"s":"kinm41","a":3.308,"b":83},{"s":"kinm41","a":3.414,"b":78},{"s":"kinm41","a":3.52,"b":83},{"s":"kinm41","a":3.627,"b":81},{"s":"kinm41","a":3.733,"b":81},{"s":"kinm41","a":3.84,"b":87},{"s":"kinm41","a":3.92,"b":81},{"s":"kinm41","a":3.995,"b":77},
            {"s":"kinm42","a":0,"b":0},{"s":"kinm42","a":0.008,"b":354},{"s":"kinm42","a":0.019,"b":491},{"s":"kinm42","a":0.032,"b":441},{"s":"kinm42","a":0.043,"b":366},{"s":"kinm42","a":0.053,"b":267},{"s":"kinm42","a":0.064,"b":205},{"s":"kinm42","a":0.08,"b":168},{"s":"kinm42","a":0.099,"b":143},{"s":"kinm42","a":0.117,"b":93},{"s":"kinm42","a":0.138,"b":56},{"s":"kinm42","a":0.165,"b":37},{"s":"kinm42","a":0.205,"b":19},{"s":"kinm42","a":0.272,"b":12},{"s":"kinm42","a":0.352,"b":11},{"s":"kinm42","a":0.458,"b":9},{"s":"kinm42","a":0.591,"b":6},{"s":"kinm42","a":0.724,"b":9},{"s":"kinm42","a":0.858,"b":11},{"s":"kinm42","a":0.991,"b":12},{"s":"kinm42","a":1.097,"b":16},{"s":"kinm42","a":1.204,"b":31},{"s":"kinm42","a":1.31,"b":43},{"s":"kinm42","a":1.417,"b":50},{"s":"kinm42","a":1.523,"b":56},{"s":"kinm42","a":1.63,"b":71},{"s":"kinm42","a":1.736,"b":81},{"s":"kinm42","a":1.843,"b":83},{"s":"kinm42","a":1.949,"b":87},{"s":"kinm42","a":2.056,"b":87},{"s":"kinm42","a":2.162,"b":106},{"s":"kinm42","a":2.269,"b":112},{"s":"kinm42","a":2.375,"b":130},{"s":"kinm42","a":2.482,"b":143},{"s":"kinm42","a":2.588,"b":133},{"s":"kinm42","a":2.695,"b":137},{"s":"kinm42","a":2.802,"b":137},{"s":"kinm42","a":2.882,"b":145},{"s":"kinm42","a":2.961,"b":145},{"s":"kinm42","a":3.041,"b":140},{"s":"kinm42","a":3.148,"b":130},{"s":"kinm42","a":3.254,"b":116},{"s":"kinm42","a":3.361,"b":99},{"s":"kinm42","a":3.467,"b":87},{"s":"kinm42","a":3.574,"b":81},{"s":"kinm42","a":3.68,"b":78},{"s":"kinm42","a":3.786,"b":78},{"s":"kinm42","a":3.893,"b":75},{"s":"kinm42","a":3.995,"b":71}
          ]},
          "mark": "line",
          "encoding": {
            "x": {"field": "a", "type": "quantitative", "scale": {"domain": [0, 4], "nice": false}, "axis": {"values": [0, 1, 2, 3, 4], "title": "→ α"}},
            "y": {"field": "b", "type": "quantitative", "scale": {"domain": [0, 1000], "nice": false}, "axis": {"values": [0, 500, 1000], "title": "→β₂"}},
            "color": {"field": "s", "type": "nominal", "scale": {"domain": ["fil1","fil2","wall1","wall2","kinm11","kinm12","kinm21","kinm22","kinm31","kinm32","kinm41","kinm42"], "range": ["#0000ff","#ff0000","#0000ff","#ff0000","#0000ff","#ff0000","#0000ff","#ff0000","#0000ff","#ff0000","#0000ff","#ff0000"]}, "legend": {"legendX": 326, "legendY": 10, "title": "l", "values": ["kinm41", "kinm42"]}},
            "strokeDash": {"field": "s", "type": "nominal", "scale": {"domain": ["fil1","fil2","wall1","wall2","kinm11","kinm12","kinm21","kinm22","kinm31","kinm32","kinm41","kinm42"], "range": [[1,0],[16,12],[1,0],[16,12],[1,0],[16,12],[1,0],[16,12],[1,0],[16,12],[1,0],[16,12]]}, "legend": {"legendX": 326, "legendY": 10, "title": "l", "values": ["kinm41", "kinm42"]}}
          }
        },
        {
          "data": {"values": [{}]},
          "mark": {"type": "text", "text": "x 10", "align": "right", "baseline": "alphabetic", "dx": -22, "dy": 82, "fontSize": 25},
          "encoding": {
            "x": {"datum": 4, "type": "quantitative", "axis": {"orient": "top", "labels": false, "title": null, "values": [0, 1, 2, 3, 4]}},
            "y": {"datum": 0, "type": "quantitative", "axis": {"orient": "right", "labels": false, "title": null, "values": [0, 500, 1000]}}
          }
        },
        {
          "data": {"values": [{}]},
          "mark": {"type": "text", "text": "−3", "align": "right", "baseline": "alphabetic", "dx": 1, "dy": 66, "fontSize": 17},
          "encoding": {"x": {"datum": 4, "type": "quantitative", "axis": null}, "y": {"datum": 0, "type": "quantitative", "axis": null}}
        }
      ]
    }
  ]
}
